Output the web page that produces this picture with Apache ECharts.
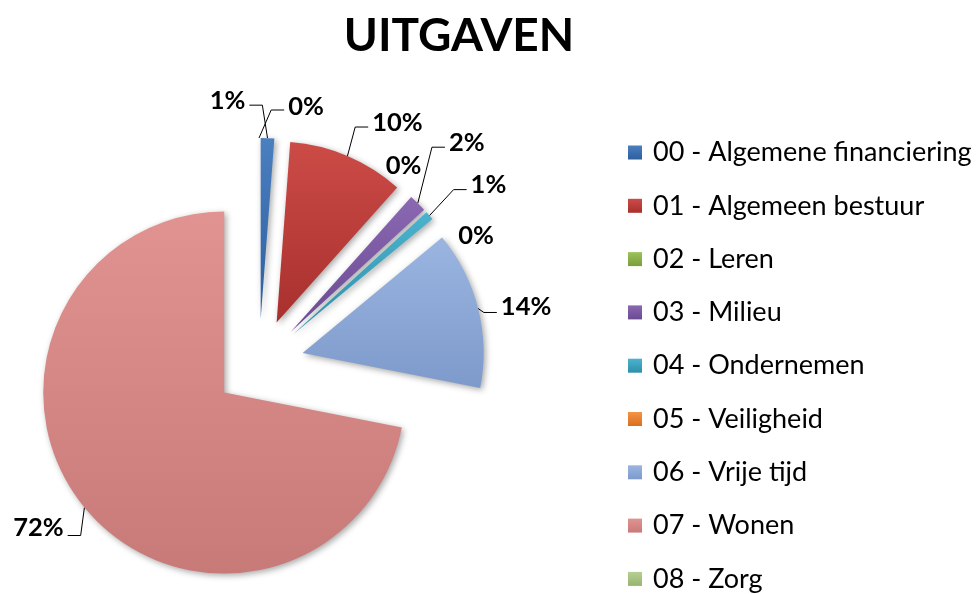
<!DOCTYPE html>
<html>
<head>
<meta charset="utf-8">
<script src="https://cdn.jsdelivr.net/npm/echarts@6/dist/echarts.min.js"></script>
<style>
html,body{margin:0;padding:0;background:#fff;}
#chart{width:979px;height:594px;}
</style>
</head>
<body>
<div id="chart"></div>
<script>
var title = 'UITGAVEN';
var categories = ['00 - Algemene financiering','01 - Algemeen bestuur','02 - Leren','03 - Milieu','04 - Ondernemen','05 - Veiligheid','06 - Vrije tijd','07 - Wonen','08 - Zorg'];
var values = [1.2, 10.4, 0, 1.6, 0.8, 0, 14.1, 71.9, 0];

// styling (not data): slice gradient colours, label centre offsets from each slice's outer anchor, leader settings
var colors = [
  ['#4A7FC0','#2E5E9E'],
  ['#CC4B47','#A8302D'],
  ['#9DC25A','#7A9E3A'],
  ['#8A68B2','#6A4A91'],
  ['#4BB3CE','#2E8FAA'],
  ['#F59345','#D8701E'],
  ['#9AB5E0','#7E9ACB'],
  ['#E09390','#C87A78'],
  ['#B6D092','#97B472']
];
var labelOffsets = [[-40,-37],[50,-33],[-6,-30],[49,-60],[59,-31],[43,16],[48,-2],[-46,20],[47,-31]];
var leaderDrop = [4,4,0,4,5,0,6,8,3];
var showLeader = [true,true,false,true,true,false,true,true,true];
var LABEL_FONT = 'Lato', LABEL_SIZE = 25.5;

function grad(c){
  return new echarts.graphic.LinearGradient(0,0,0,1,[{offset:0,color:c[0]},{offset:1,color:c[1]}]);
}

// slice mid directions (same arithmetic as the pie layout) to turn label offsets into line lengths / paddings
var total = values.reduce(function(s,v){return s+v;},0);
var cum = 0;
var dirs = values.map(function(v){
  var m = (cum + v/2)/total*2*Math.PI; cum += v;
  return [Math.sin(m), -Math.cos(m)];
});

var data = categories.map(function(n,i){
  var off = labelOffsets[i], d = dirs[i];
  var L = off[1] / d[1];
  var shift = off[0] - d[0]*L;
  var pad = shift >= 0 ? [0,0,0,2*shift] : [0,-2*shift,0,0];
  return {
    name:n, value:values[i], selected:true,
    itemStyle:{color:grad(colors[i])},
    label:{padding:pad, distanceToLabelLine:0},
    labelLine:{length:L, length2:0}
  };
});

var measureCtx = document.createElement('canvas').getContext('2d');
measureCtx.font = 'bold ' + LABEL_SIZE + 'px ' + LABEL_FONT;

var chart = echarts.init(document.getElementById('chart'), null, {renderer:'canvas'});
chart.setOption({
  animation:false,
  backgroundColor:'#fff',
  title:{
    text:title,
    left:454, textAlign:'center', top:8,
    textStyle:{fontFamily:'Lato', fontWeight:'bold', fontSize:46, color:'#000'}
  },
  legend:{
    orient:'vertical',
    left:628, top:139, padding:0, height:470,
    itemWidth:14, itemHeight:14, itemGap:26.3,
    icon:'rect',
    selectedMode:false,
    textStyle:{fontFamily:'Lato', fontSize:27, color:'#000', lineHeight:27, padding:[0,0,0,6]},
    data:categories
  },
  series:[{
    type:'pie',
    center:[259,364],
    radius:[0,181],
    startAngle:90,
    clockwise:true,
    selectedMode:'multiple',
    selectedOffset:45,
    percentPrecision:0,
    avoidLabelOverlap:false,
    minShowLabelAngle:0,
    itemStyle:{shadowBlur:6, shadowColor:'rgba(0,0,0,0.35)', shadowOffsetX:2, shadowOffsetY:2},
    select:{itemStyle:{borderWidth:0}},
    emphasis:{disabled:true},
    label:{
      show:true, position:'outside', alignTo:'none',
      formatter:'{d}%',
      fontFamily:LABEL_FONT, fontWeight:'bold', fontSize:LABEL_SIZE, color:'#000'
    },
    labelLine:{show:true, lineStyle:{color:'#000', width:1}},
    labelLayout:function(p){
      var i = p.dataIndex;
      var a = p.labelLinePoints[0];
      var off = labelOffsets[i];
      var w = measureCtx.measureText(p.text).width;
      var cx = a[0] + off[0], cy = a[1] + off[1];
      var res = {align:'center', verticalAlign:'middle'};
      if (showLeader[i]) {
        var leftSide = off[0] < 0;
        var ex = leftSide ? cx + w/2 + 4 : cx - w/2 - 4;
        var ey = cy + leaderDrop[i];
        var bx = leftSide ? ex + 13 : ex - 13;
        res.labelLinePoints = [[a[0],a[1]],[bx,ey],[ex,ey]];
      } else {
        res.labelLinePoints = [[a[0],a[1]],[a[0],a[1]],[a[0],a[1]]];
      }
      return res;
    },
    data:data
  }]
});
</script>
</body>
</html>
